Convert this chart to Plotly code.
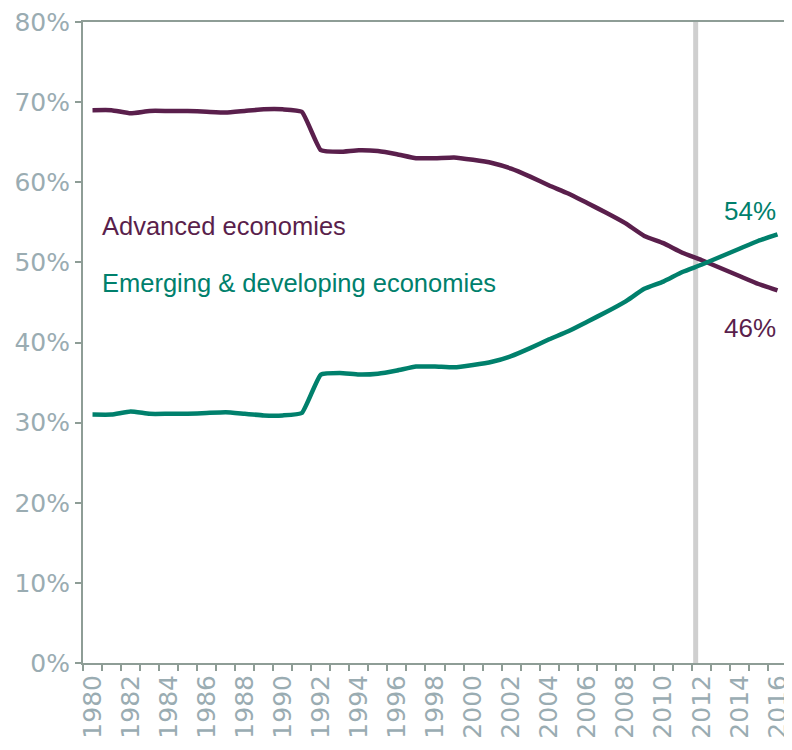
import plotly.graph_objects as go

years = list(range(1980, 2017))
advanced = [69.0, 69.0, 68.6, 68.9, 68.9, 68.9, 68.8, 68.7, 68.9, 69.1, 69.1, 68.8,
            64.0, 63.8, 64.0, 63.9, 63.5, 63.0, 63.0, 63.1, 62.8, 62.4, 61.7, 60.7,
            59.6, 58.6, 57.4, 56.2, 54.9, 53.3, 52.4, 51.2, 50.3, 49.3, 48.3, 47.3, 46.5]
emerging = [31.0, 31.0, 31.4, 31.1, 31.1, 31.1, 31.2, 31.3, 31.1, 30.9, 30.9, 31.2,
            36.0, 36.2, 36.0, 36.1, 36.5, 37.0, 37.0, 36.9, 37.2, 37.6, 38.3, 39.3,
            40.4, 41.4, 42.6, 43.8, 45.1, 46.7, 47.6, 48.8, 49.7, 50.7, 51.7, 52.7, 53.5]
y_ticks = [0, 10, 20, 30, 40, 50, 60, 70, 80]
x_labels = list(range(1980, 2017, 2))
marker_year = 2011.7

PLUM = "#5a1f4c"
TEAL = "#00806c"
AXIS = "#8e9d96"
TICKFONT = "#9aacb2"

fig = go.Figure()
fig.add_trace(go.Scatter(x=years, y=advanced, mode="lines",
                         line=dict(color=PLUM, width=4.5, shape="spline", smoothing=0.4),
                         showlegend=False))
fig.add_trace(go.Scatter(x=years, y=emerging, mode="lines",
                         line=dict(color=TEAL, width=4.5, shape="spline", smoothing=0.4),
                         showlegend=False))

fig.add_shape(type="line", x0=marker_year, x1=marker_year, y0=0, y1=80,
              xref="x", yref="y", line=dict(color="#cfcfcf", width=5), layer="below")

fig.add_annotation(x=1980.4, y=54.6, text="Advanced economies", showarrow=False,
                   xanchor="left", font=dict(family="Liberation Sans", size=25.5, color=PLUM))
fig.add_annotation(x=1980.4, y=47.4, text="Emerging &amp; developing economies", showarrow=False,
                   xanchor="left", font=dict(family="Liberation Sans", size=25.5, color=TEAL))
fig.add_annotation(x=2016.05, y=56.4, text="54%", showarrow=False,
                   xanchor="right", font=dict(family="Liberation Sans", size=26, color=TEAL))
fig.add_annotation(x=2016.05, y=41.8, text="46%", showarrow=False,
                   xanchor="right", font=dict(family="Liberation Sans", size=26, color=PLUM))

# the page body adds an 8px offset, so the figure is sized to fit the window
fig.update_layout(
    width=784, height=742,
    margin=dict(l=75, r=5, t=14, b=87, autoexpand=False),
    paper_bgcolor="white", plot_bgcolor="white",
    font=dict(family="DejaVu Sans"),
)
fig.update_xaxes(
    range=[1979.5, 2016.5], automargin=False, ticklabeloverflow="allow",
    tickmode="array", tickvals=x_labels, ticktext=[str(v) for v in x_labels],
    tickangle=-90, ticks="", showgrid=False, zeroline=False,
    showline=True, linecolor=AXIS, linewidth=2, mirror=True,
    tickfont=dict(family="DejaVu Sans", size=25, color=TICKFONT),
    minor=dict(tick0=1979.5, dtick=1, ticks="outside", ticklen=6, tickcolor=AXIS, tickwidth=2, showgrid=False),
)
fig.update_yaxes(
    range=[0, 80], automargin=False, ticklabeloverflow="allow",
    tickmode="array", tickvals=y_ticks, ticktext=[f"{v}%" for v in y_ticks],
    ticks="outside", ticklen=6, tickcolor=AXIS, tickwidth=2,
    showgrid=False, zeroline=False,
    showline=True, linecolor=AXIS, linewidth=2, mirror=True,
    tickfont=dict(family="DejaVu Sans", size=25, color=TICKFONT),
)

fig.write_html("out.html")
